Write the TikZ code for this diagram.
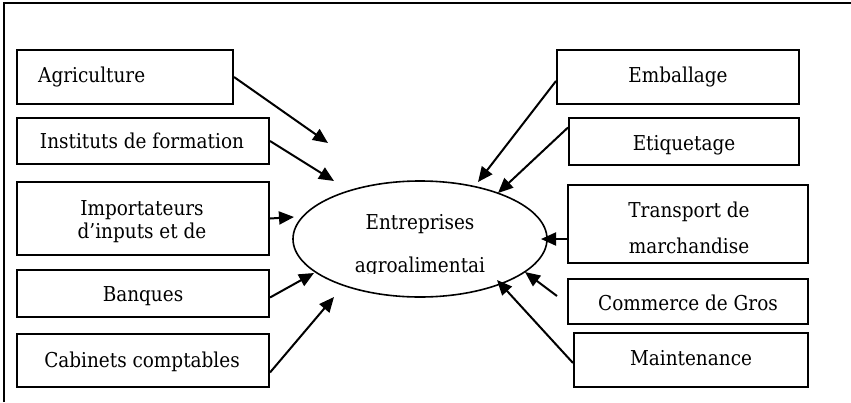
\documentclass[tikz,border=0pt]{standalone}
\usepackage{fontspec}
\setmainfont{DejaVu Serif Condensed}
\usetikzlibrary{arrows.meta}
\begin{document}
\begin{tikzpicture}[x=1pt,y=-1pt,
  boxnode/.style={draw,line width=2pt,rectangle,inner sep=0pt},
  txt/.style={anchor=base,inner sep=0pt,font=\fontsize{20.5}{24}\selectfont},
  arr/.style={line width=2pt,-{Triangle[length=15pt,width=13pt]}}]
\useasboundingbox (0,0) rectangle (851,402);
% frame (only top and left edges visible)
\coordinate (f1) at (4,402);
\coordinate (f2) at (4,3);
\coordinate (f3) at (851,3);
\draw[line width=2pt] (f1) -- (f2) -- (f3);
% left boxes
\node[boxnode,minimum width=216pt,minimum height=54pt] (agri) at (125,77) {};
\node[boxnode,minimum width=252pt,minimum height=46pt] (inst) at (143,141) {};
\node[boxnode,minimum width=252pt,minimum height=73pt] (impo) at (143,218.5) {};
\node[boxnode,minimum width=252pt,minimum height=47pt] (banq) at (143,293.5) {};
\node[boxnode,minimum width=252pt,minimum height=53pt] (cabi) at (143,360.5) {};
% right boxes
\node[boxnode,minimum width=242pt,minimum height=54pt] (emba) at (678,77) {};
\node[boxnode,minimum width=230pt,minimum height=47pt] (etiq) at (684,141.5) {};
\node[boxnode,minimum width=240pt,minimum height=78pt] (tran) at (688,224) {};
\node[boxnode,minimum width=240pt,minimum height=45pt] (comm) at (688,301.5) {};
\node[boxnode,minimum width=234pt,minimum height=54pt] (main) at (691,360) {};
% ellipse
\draw[line width=1.6pt] (420,239) ellipse [x radius=127pt, y radius=58pt];
\coordinate (ell) at (420,239);
% texts
\node[txt,anchor=base west] (tagri) at (38,82) {Agriculture};
\node[txt] (tinst) at (142,148) {Instituts de formation};
\node[txt] (timpo1) at (142,215) {Importateurs};
\node[txt] (timpo2) at (142,238) {d’inputs et de};
\node[txt] (tbanq) at (143,301) {Banques};
\node[txt] (tcabi) at (142,367) {Cabinets comptables};
\node[txt] (temba) at (678,82) {Emballage};
\node[txt] (tetiq) at (684,150) {Etiquetage};
\node[txt] (ttran1) at (689,217) {Transport de};
\node[txt] (ttran2) at (689,253) {marchandise};
\node[txt] (tcomm) at (688,310) {Commerce de Gros};
\node[txt] (tmain) at (691,365) {Maintenance};
\node[txt] (tent1) at (420,229) {Entreprises};
\begin{scope}
\clip (340,240) rectangle (500,273);
\node[txt] (tent2) at (420,272) {agroalimentai};
\end{scope}
% arrow tips
\coordinate (pagri) at (328,143);
\coordinate (pinst) at (334,181);
\coordinate (pimpo) at (294,217);
\coordinate (pbanq) at (314,273);
\coordinate (pcabi) at (334,297);
\coordinate (pemba) at (478,182);
\coordinate (petiq) at (498,193);
\coordinate (ptran) at (541,239);
\coordinate (pcomm) at (525,272);
\coordinate (pmain) at (497,280);
\coordinate (scomm) at (557,296);
% arrows
\draw[arr] (agri.east) -- (pagri);
\draw[arr] (inst.east) -- (pinst);
\draw[arr] (impo.east) -- (pimpo);
\draw[arr] ([yshift=-4pt]banq.east) -- (pbanq);
\draw[arr] ([yshift=-12pt]cabi.east) -- (pcabi);
\draw[arr] ([yshift=-4pt]emba.west) -- (pemba);
\draw[arr] ([yshift=14pt]etiq.west) -- (petiq);
\draw[arr] ([yshift=-15pt]tran.west) -- (ptran);
\draw[arr] (scomm) -- (pcomm);
\draw[arr] ([yshift=-3pt]main.west) -- (pmain);
\end{tikzpicture}
\end{document}
